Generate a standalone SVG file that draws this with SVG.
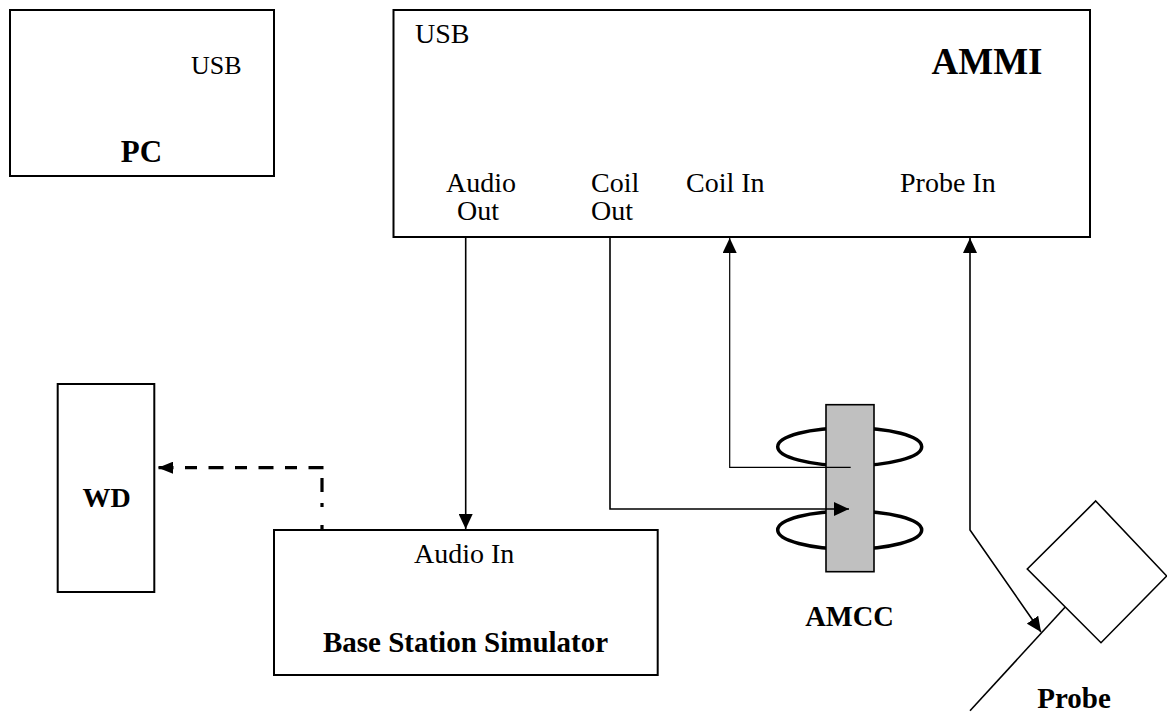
<svg xmlns="http://www.w3.org/2000/svg" width="1167" height="713" viewBox="0 0 1167 713">
<style>
.box{fill:#fff;stroke:#000;stroke-width:2}
.t{font-family:"Liberation Serif","Times New Roman",serif;font-size:28px;fill:#000}
.b{font-family:"Liberation Serif","Times New Roman",serif;font-weight:bold;fill:#000}
.ln{fill:none;stroke:#000}
</style>
<defs>
<marker id="ah" markerUnits="userSpaceOnUse" markerWidth="16" markerHeight="14" refX="15" refY="7" orient="auto">
<path d="M0,0 L15,7 L0,14 z" fill="#000"/>
</marker>
<marker id="ahs" markerUnits="userSpaceOnUse" markerWidth="16" markerHeight="14" refX="15" refY="7" orient="auto-start-reverse">
<path d="M0,0 L15,7 L0,14 z" fill="#000"/>
</marker>
<marker id="ahd" markerUnits="userSpaceOnUse" markerWidth="16" markerHeight="12" refX="15" refY="6" orient="auto">
<path d="M0,0 L15,6 L0,12 z" fill="#000"/>
</marker>
</defs>
<rect width="1167" height="713" fill="#fff"/>
<g id="pc">
<rect class="box" x="10" y="10" width="264" height="166"/>
<text class="t" x="191" y="74" style="font-size:26px">USB</text>
<text class="b" x="141.5" y="162" text-anchor="middle" font-size="31">PC</text>
</g>
<g id="ammi">
<rect class="box" x="393.5" y="10" width="696.5" height="227"/>
<text class="t" x="415" y="43">USB</text>
<text class="b" x="987" y="74" text-anchor="middle" font-size="37">AMMI</text>
<text class="t" x="481" y="192" text-anchor="middle">Audio</text>
<text class="t" x="478" y="220" text-anchor="middle">Out</text>
<text class="t" x="591" y="192">Coil</text>
<text class="t" x="591" y="220">Out</text>
<text class="t" x="686" y="192">Coil In</text>
<text class="t" x="900" y="192">Probe In</text>
</g>
<g id="wd">
<rect class="box" x="57.7" y="384" width="96.6" height="208"/>
<text class="b" x="106.7" y="507" text-anchor="middle" font-size="28">WD</text>
</g>
<g id="bss">
<rect class="box" x="274" y="530" width="383.7" height="145"/>
<text class="t" x="414" y="563">Audio In</text>
<text class="b" x="465.5" y="652" text-anchor="middle" font-size="29">Base Station Simulator</text>
</g>
<g id="amcc">
<ellipse cx="849.7" cy="446.7" rx="72" ry="19" fill="none" stroke="#000" stroke-width="3.5"/>
<ellipse cx="849.7" cy="530" rx="72" ry="19" fill="none" stroke="#000" stroke-width="3.5"/>
<rect x="826" y="404.7" width="48" height="167" fill="#c0c0c0" stroke="#000" stroke-width="1.6"/>
<text class="b" x="849.5" y="626" text-anchor="middle" font-size="28.5">AMCC</text>
</g>
<g id="probe">
<polygon points="1095.7,501 1166.7,576 1101,642.7 1027.3,569" fill="#fff" stroke="#000" stroke-width="1.6"/>
<line x1="1065" y1="607.3" x2="970" y2="710.7" stroke="#000" stroke-width="1.6"/>
<text class="b" x="1074" y="708" text-anchor="middle" font-size="29">Probe</text>
</g>
<g id="connectors">
<line class="ln" style="stroke-width:1.6" x1="465.7" y1="238" x2="465.7" y2="529" marker-end="url(#ah)"/>
<polyline class="ln" style="stroke-width:1.6" points="610,238 610,509 849,509" marker-end="url(#ah)"/>
<polyline class="ln" style="stroke-width:1.2" points="850.7,467.3 729.7,467.3 729.7,238" marker-end="url(#ah)"/>
<polyline class="ln" style="stroke-width:1.6" points="1041,632 970,530 970,238" marker-start="url(#ahs)" marker-end="url(#ah)"/>
<line class="ln" style="stroke-width:3.2;stroke-dasharray:14 11 4 18 5 10" x1="322" y1="478" x2="322" y2="530"/>
<line class="ln" style="stroke-width:3.2;stroke-dasharray:15 11.5 12 11.5" x1="323.5" y1="467.7" x2="158" y2="467.7" marker-end="url(#ahd)"/>
</g>
</svg>
